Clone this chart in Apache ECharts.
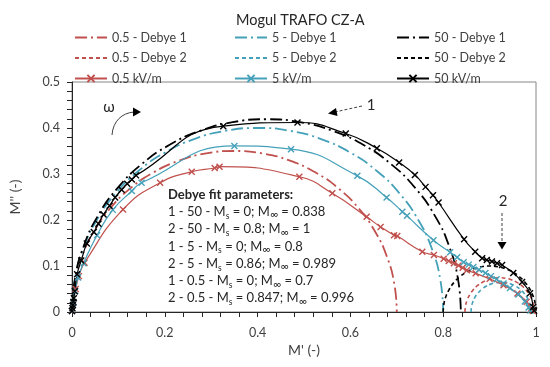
<!DOCTYPE html>
<html><head><meta charset="utf-8">
<script src="https://cdn.jsdelivr.net/npm/echarts@6/dist/echarts.min.js"></script>
<style>html,body{margin:0;padding:0;background:#fff}#c{width:550px;height:367px}</style>
</head><body><div id="c"></div>
<script>
const FONT = 'Lato, "Open Sans", sans-serif';
const RED = '#c0504d', TEAL = '#45a1b9', BLACK = '#000000';

// Debye fit curves
const debye1_05 = [[0,0],[0.0053,0.0608],[0.0211,0.1197],[0.0469,0.175],[0.0819,0.225],[0.125,0.2681],[0.175,0.3031],[0.2303,0.3289],[0.2892,0.3447],[0.35,0.35],[0.4108,0.3447],[0.4697,0.3289],[0.525,0.3031],[0.575,0.2681],[0.6181,0.225],[0.6531,0.175],[0.6789,0.1197],[0.6947,0.0608],[0.7,0]];
const debye2_05 = [[0.847,0],[0.8481,0.0129],[0.8515,0.0255],[0.857,0.0373],[0.8644,0.0479],[0.8736,0.0571],[0.8843,0.0645],[0.896,0.07],[0.9086,0.0734],[0.9215,0.0745],[0.9344,0.0734],[0.947,0.07],[0.9588,0.0645],[0.9694,0.0571],[0.9786,0.0479],[0.986,0.0373],[0.9915,0.0255],[0.9949,0.0129],[0.996,0]];
const debye1_5 = [[0,0],[0.0061,0.0694],[0.0241,0.1368],[0.0536,0.2],[0.0936,0.2571],[0.1429,0.3064],[0.2,0.3464],[0.2632,0.3759],[0.3306,0.3939],[0.4,0.4],[0.4694,0.3939],[0.5368,0.3759],[0.6,0.3464],[0.6571,0.3064],[0.7064,0.2571],[0.7464,0.2],[0.7759,0.1368],[0.7939,0.0694],[0.8,0]];
const debye2_5 = [[0.86,0],[0.861,0.0112],[0.8639,0.0221],[0.8686,0.0323],[0.8751,0.0415],[0.883,0.0494],[0.8923,0.0559],[0.9024,0.0606],[0.9133,0.0635],[0.9245,0.0645],[0.9357,0.0635],[0.9466,0.0606],[0.9568,0.0559],[0.966,0.0494],[0.9739,0.0415],[0.9804,0.0323],[0.9851,0.0221],[0.988,0.0112],[0.989,0]];
const debye1_50 = [[0,0],[0.0064,0.0727],[0.0253,0.1433],[0.0561,0.2095],[0.098,0.2693],[0.1497,0.321],[0.2095,0.3629],[0.2757,0.3937],[0.3463,0.4126],[0.419,0.419],[0.4917,0.4126],[0.5623,0.3937],[0.6285,0.3629],[0.6883,0.321],[0.74,0.2693],[0.7819,0.2095],[0.8127,0.1433],[0.8317,0.0727],[0.838,0]];
const debye2_50 = [[0.8,0],[0.8015,0.0174],[0.806,0.0342],[0.8134,0.05],[0.8234,0.0643],[0.8357,0.0766],[0.85,0.0866],[0.8658,0.094],[0.8826,0.0985],[0.9,0.1],[0.9174,0.0985],[0.9342,0.094],[0.95,0.0866],[0.9643,0.0766],[0.9766,0.0643],[0.9866,0.05],[0.994,0.0342],[0.9985,0.0174],[1,0]];

// Measured data
const meas_05 = [[0,0.002],[0.003,0.02],[0.008,0.05],[0.015,0.078],[0.027,0.107],[0.110,0.223],[0.190,0.281],[0.258,0.305],[0.3075,0.313],[0.318,0.316],[0.490,0.294],[0.561,0.258],[0.635,0.207],[0.665,0.185],[0.694,0.167],[0.701,0.165],[0.755,0.131],[0.78,0.124],[0.801,0.116],[0.812,0.111],[0.823,0.106],[0.833,0.101],[0.842,0.096],[0.851,0.091],[0.87,0.084],[0.9,0.072],[0.93,0.058],[0.96,0.04],[0.98,0.022],[0.99,0.008],[0.993,0.002]];
const meas_5 = [[0,0.002],[0.003,0.02],[0.007,0.045],[0.013,0.075],[0.025,0.106],[0.054,0.167],[0.088,0.222],[0.129,0.263],[0.150,0.281],[0.350,0.361],[0.472,0.354],[0.615,0.296],[0.678,0.249],[0.712,0.218],[0.722,0.209],[0.779,0.156],[0.815,0.13],[0.83,0.119],[0.844,0.108],[0.855,0.103],[0.865,0.098],[0.877,0.092],[0.891,0.085],[0.903,0.078],[0.915,0.071],[0.93,0.062],[0.944,0.052],[0.962,0.038],[0.976,0.023],[0.984,0.01],[0.988,0.003]];
const meas_50 = [[0,0.002],[0.001,0.008],[0.002,0.015],[0.003,0.022],[0.004,0.03],[0.006,0.045],[0.011,0.082],[0.02,0.112],[0.032,0.149],[0.047,0.174],[0.057,0.192],[0.068,0.212],[0.081,0.231],[0.093,0.249],[0.107,0.266],[0.119,0.279],[0.129,0.288],[0.138,0.297],[0.326,0.404],[0.486,0.412],[0.590,0.388],[0.657,0.356],[0.705,0.325],[0.739,0.298],[0.762,0.272],[0.778,0.254],[0.790,0.238],[0.845,0.158],[0.869,0.131],[0.884,0.117],[0.894,0.113],[0.905,0.110],[0.916,0.106],[0.927,0.102],[0.951,0.085],[0.970,0.065],[0.987,0.041],[0.994,0.011],[0.996,0.003]];

const names = ['0.5 - Debye 1','0.5 - Debye 2','0.5 kV/m','5 - Debye 1','5 - Debye 2','5 kV/m','50 - Debye 1','50 - Debye 2','50 kV/m'];
const fitLines = [
  '1 - 50 - M{s|s} = 0; M{i|∞} = 0.838',
  '2 - 50 - M{s|s} = 0.8; M{i|∞} = 1',
  '1 - 5 - M{s|s} = 0; M{i|∞} = 0.8',
  '2 - 5 - M{s|s} = 0.86; M{i|∞} = 0.989',
  '1 - 0.5 - M{s|s} = 0; M{i|∞} = 0.7',
  '2 - 0.5 - M{s|s} = 0.847; M{i|∞} = 0.996'
];

const XMARK = 'path://M0,0L10,10M10,0L0,10';
const kinds = {};
function mk(name, data, color, kind) {
  kinds[name] = kind;
  const s = { name, type: 'line', data, smooth: true, color: color, animation: false };
  if (kind === 'dd') {
    s.symbol = 'none';
    s.lineStyle = { color, width: 1.8, type: [12, 4, 2, 4] };
    s.z = 3;
  } else if (kind === 'd') {
    s.symbol = 'none';
    s.lineStyle = { color, width: 1.6, type: [4, 3] };
    s.z = 3;
  } else {
    s.symbol = XMARK;
    s.symbolSize = 6;
    s.showSymbol = true;
    s.lineStyle = { color, width: 1.2 };
    s.itemStyle = { color: 'rgba(0,0,0,0)', borderColor: color, borderWidth: 1.4 };
    s.z = 4;
  }
  return s;
}

const series = [
  mk(names[0], debye1_05, RED, 'dd'),
  mk(names[1], debye2_05, RED, 'd'),
  mk(names[2], meas_05, RED, 'm'),
  mk(names[3], debye1_5, TEAL, 'dd'),
  mk(names[4], debye2_5, TEAL, 'd'),
  mk(names[5], meas_5, TEAL, 'm'),
  mk(names[6], debye1_50, BLACK, 'dd'),
  mk(names[7], debye2_50, BLACK, 'd'),
  mk(names[8], meas_50, BLACK, 'm')
];

function legendCol(left, items) {
  return {
    left, top: 26, orient: 'vertical', itemWidth: 32, itemHeight: 9, itemGap: 7.5,
    data: items.map(n => kinds[n] === 'm' ? { name: n } : { name: n, itemStyle: { opacity: 0 } }),
    selectedMode: false,
    textStyle: { fontFamily: FONT, fontSize: 12.5, color: '#404040' }
  };
}

const axisLbl = { fontFamily: FONT, fontSize: 12.5, color: '#404040' };
const chart = echarts.init(document.getElementById('c'), null, { renderer: 'canvas' });
chart.setOption({
  animation: false,
  title: { text: 'Mogul TRAFO CZ-A', left: 231, top: 8, textStyle: { fontFamily: FONT, fontSize: 14.5, fontWeight: 'normal', color: '#262626' } },
  legend: [legendCol(69, names.slice(0, 3)), legendCol(229, names.slice(3, 6)), legendCol(391, names.slice(6, 9))],
  grid: { left: 70, right: 14, top: 82, bottom: 55, show: true, borderColor: '#868686', borderWidth: 1 },
  xAxis: {
    type: 'value', min: 0, max: 1, interval: 0.2,
    name: "M' (-)", nameLocation: 'middle', nameGap: 29,
    nameTextStyle: { fontFamily: FONT, fontSize: 14, color: '#404040' },
    axisLine: { lineStyle: { color: '#262626', width: 1 } },
    axisTick: { show: true, length: 5, lineStyle: { color: '#262626' } },
    minorTick: { show: true, splitNumber: 5, length: 5, lineStyle: { color: '#262626' } },
    splitLine: { show: false },
    axisLabel: Object.assign({ margin: 14 }, axisLbl)
  },
  yAxis: {
    type: 'value', min: 0, max: 0.5, interval: 0.1,
    name: "M'' (-)", nameLocation: 'middle', nameGap: 50, nameRotate: 90,
    nameTextStyle: { fontFamily: FONT, fontSize: 14, color: '#404040' },
    axisLine: { show: true, lineStyle: { color: '#262626', width: 1 } },
    axisTick: { show: true, length: 5, lineStyle: { color: '#262626' } },
    minorTick: { show: true, splitNumber: 5, length: 5, lineStyle: { color: '#262626' } },
    splitLine: { show: false },
    axisLabel: Object.assign({ margin: 12 }, axisLbl)
  },
  series,
  graphic: [
    { type: 'text', left: 168, top: 188, z: 10, style: {
        text: '{b|Debye fit parameters:}\n' + fitLines.map(l => '{n|' + l.replace(/\{([si])\|(.)\}/g, '}{$1|$2}{n|') + '}').join('\n'),
        rich: {
          b: { fontFamily: FONT, fontSize: 13, fontWeight: 'bold', lineHeight: 17.3, fill: '#262626' },
          n: { fontFamily: FONT, fontSize: 13, lineHeight: 17.3, fill: '#262626', verticalAlign: 'middle' },
          s: { fontFamily: FONT, fontSize: 8.5, lineHeight: 8, fill: '#262626', verticalAlign: 'bottom' },
          i: { fontFamily: FONT, fontSize: 11, lineHeight: 9, fill: '#262626', verticalAlign: 'bottom' }
        }
    } },
    { type: 'text', x: 109, y: 107, style: { text: 'ω', font: '15px ' + FONT, fill: '#262626', align: 'center', verticalAlign: 'middle' } },
    { type: 'bezierCurve', shape: { x1: 112, y1: 135, cpx1: 113, cpy1: 121, cpx2: 122, cpy2: 113, x2: 134, y2: 112 }, style: { stroke: '#404040', lineWidth: 1, fill: null } },
    { type: 'polygon', shape: { points: [[141, 112], [133, 107.5], [133, 116.5]] }, style: { fill: '#000' } },
    { type: 'text', x: 371, y: 105, style: { text: '1', font: '15px ' + FONT, fill: '#262626', align: 'center', verticalAlign: 'middle' } },
    { type: 'line', shape: { x1: 362, y1: 106, x2: 335, y2: 112 }, style: { stroke: '#404040', lineWidth: 1, lineDash: [3, 2] } },
    { type: 'polygon', shape: { points: [[328, 113.5], [336, 108], [337.5, 116]] }, style: { fill: '#000' } },
    { type: 'text', x: 503, y: 201, style: { text: '2', font: '15px ' + FONT, fill: '#262626', align: 'center', verticalAlign: 'middle' } },
    { type: 'line', shape: { x1: 502, y1: 213, x2: 502, y2: 243 }, style: { stroke: '#404040', lineWidth: 1, lineDash: [3, 2] } },
    { type: 'polygon', shape: { points: [[502, 249.5], [497.5, 242], [506.5, 242]] }, style: { fill: '#000' } }
  ]
});
</script>
</body></html>
